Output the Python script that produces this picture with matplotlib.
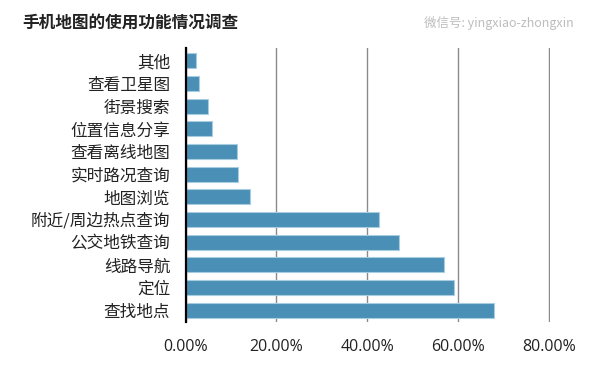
import matplotlib
matplotlib.use("Agg")
import matplotlib.pyplot as plt
from matplotlib.ticker import FuncFormatter

plt.rcParams['font.family'] = ['Noto Sans CJK SC', 'DejaVu Sans']

# bottom to top, as in the chart
categories = ['查找地点', '定位', '线路导航', '公交地铁查询', '附近/周边热点查询',
              '地图浏览', '实时路况查询', '查看离线地图', '位置信息分享',
              '街景搜索', '查看卫星图', '其他']
values = [0.680, 0.590, 0.570, 0.470, 0.426, 0.143, 0.116, 0.113, 0.059,
          0.050, 0.030, 0.023]
xticks = [0, 0.2, 0.4, 0.6, 0.8]

fig = plt.figure(figsize=(5.95, 3.66), dpi=100)
ax = fig.add_axes([0.3118, 0.120, 0.6124, 0.749])

ypos = range(len(categories))
ax.barh(ypos, values, height=0.66, color='#4a8fb5',
        edgecolor='#a9cde0', linewidth=0.8, zorder=3)

ax.set_xlim(0, 0.802)
ax.set_ylim(-0.53, 11.57)
ax.set_xticks(xticks)
ax.xaxis.set_major_formatter(FuncFormatter(lambda v, p: f'{v*100:.2f}%'))
ax.set_yticks(list(ypos))
ax.set_yticklabels(categories, fontsize=12, color='#222222')
ax.tick_params(axis='y', length=0, pad=11)
ax.tick_params(axis='x', length=0, pad=12, labelsize=11.5, labelcolor='#222222')
for lab in ax.get_xticklabels():
    lab.set_family(['Open Sans', 'DejaVu Sans'])

ax.grid(axis='x', color='#8a8a8a', linewidth=1.0, zorder=0)
for s in ['top', 'right', 'bottom']:
    ax.spines[s].set_visible(False)
ax.spines['left'].set_color('black')
ax.spines['left'].set_linewidth(1.6)
ax.spines['left'].set_zorder(4)

fig.text(0.037, 0.937, '手机地图的使用功能情况调查', fontsize=12,
         fontweight='bold', color='#222222', va='center', ha='left')

# faint watermark, moved into the free top-right corner so it covers no other text
fig.text(0.965, 0.937, '微信号: yingxiao-zhongxin', fontsize=9,
         color='#bdbdbd', va='center', ha='right', zorder=10)

fig.savefig('out.png', dpi=100)
